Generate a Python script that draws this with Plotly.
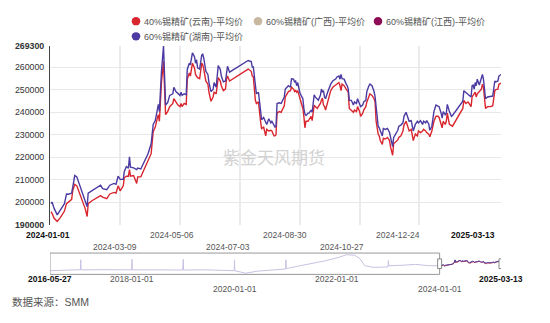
import plotly.graph_objects as go

# ---- data -------------------------------------------------------------
series_names = ["40%锡精矿(云南)-平均价", "60%锡精矿(广西)-平均价",
                "60%锡精矿(江西)-平均价", "60%锡精矿(湖南)-平均价"]
series_colors = ["#d9262e", "#c8b8a0", "#8c0d55", "#4b3aa2"]

dates = [
    "2024-01-02", "2024-01-03", "2024-01-05", "2024-01-08", "2024-01-11", "2024-01-15", "2024-01-17",
    "2024-01-19", "2024-01-22", "2024-01-23", "2024-01-25", "2024-01-27", "2024-01-30", "2024-02-01",
    "2024-02-04", "2024-02-06", "2024-02-07", "2024-02-11", "2024-02-15", "2024-02-19", "2024-02-21",
    "2024-02-25", "2024-02-28", "2024-03-03", "2024-03-05", "2024-03-07", "2024-03-09", "2024-03-12",
    "2024-03-13", "2024-03-15", "2024-03-17", "2024-03-18", "2024-03-19", "2024-03-22", "2024-03-25",
    "2024-03-26", "2024-03-29", "2024-03-31", "2024-04-02", "2024-04-05", "2024-04-08", "2024-04-10",
    "2024-04-12", "2024-04-14", "2024-04-15", "2024-04-16", "2024-04-18", "2024-04-20", "2024-04-22",
    "2024-04-24", "2024-04-26", "2024-04-29", "2024-04-30", "2024-05-02", "2024-05-04", "2024-05-06",
    "2024-05-07", "2024-05-08", "2024-05-10", "2024-05-12", "2024-05-13", "2024-05-15", "2024-05-16",
    "2024-05-18", "2024-05-20", "2024-05-21", "2024-05-22", "2024-05-23", "2024-05-25", "2024-05-27",
    "2024-05-28", "2024-05-29", "2024-05-31", "2024-06-02", "2024-06-03", "2024-06-05", "2024-06-07",
    "2024-06-08", "2024-06-10", "2024-06-11", "2024-06-12", "2024-06-14", "2024-06-15", "2024-06-17",
    "2024-06-19", "2024-06-20", "2024-06-21", "2024-06-23", "2024-07-11", "2024-07-14", "2024-07-15",
    "2024-07-16", "2024-07-18", "2024-07-19", "2024-07-21", "2024-07-23", "2024-07-24", "2024-07-26",
    "2024-07-28", "2024-07-29", "2024-07-31", "2024-08-02", "2024-08-03", "2024-08-05", "2024-08-06",
    "2024-08-07", "2024-08-08", "2024-08-10", "2024-08-12", "2024-08-13", "2024-08-15", "2024-08-16",
    "2024-08-18", "2024-08-19", "2024-08-21", "2024-08-22", "2024-08-24", "2024-08-25", "2024-08-26",
    "2024-08-27", "2024-08-28", "2024-08-30", "2024-09-01", "2024-09-02", "2024-09-03", "2024-09-04",
    "2024-09-05", "2024-09-07", "2024-09-08", "2024-09-10", "2024-09-11", "2024-09-12", "2024-09-13",
    "2024-09-14", "2024-09-16", "2024-09-17", "2024-09-19", "2024-09-20", "2024-09-21", "2024-09-22",
    "2024-09-23", "2024-09-24", "2024-09-26", "2024-09-27", "2024-09-29", "2024-10-01", "2024-10-04",
    "2024-10-05", "2024-10-07", "2024-10-08", "2024-10-09", "2024-10-10", "2024-10-12", "2024-10-14",
    "2024-10-15", "2024-10-16", "2024-10-17", "2024-10-19", "2024-10-21", "2024-10-22", "2024-10-24",
    "2024-10-25", "2024-10-27", "2024-10-28", "2024-10-30", "2024-10-31", "2024-11-02", "2024-11-03",
    "2024-11-05", "2024-11-06", "2024-11-08", "2024-11-10", "2024-11-11", "2024-11-12", "2024-11-14",
    "2024-11-15", "2024-11-16", "2024-11-18", "2024-11-19", "2024-11-21", "2024-11-23", "2024-11-25",
    "2024-11-26", "2024-11-28", "2024-11-29", "2024-12-01", "2024-12-03", "2024-12-04", "2024-12-06",
    "2024-12-08", "2024-12-09", "2024-12-11", "2024-12-13", "2024-12-14", "2024-12-16", "2024-12-17",
    "2024-12-18", "2024-12-20", "2024-12-22", "2024-12-23", "2024-12-25", "2024-12-27", "2024-12-28",
    "2024-12-30", "2024-12-31", "2025-01-02", "2025-01-03", "2025-01-05", "2025-01-07", "2025-01-09",
    "2025-01-11", "2025-01-12", "2025-01-14", "2025-01-15", "2025-01-16", "2025-01-18", "2025-01-19",
    "2025-01-20", "2025-01-22", "2025-01-24", "2025-01-25", "2025-02-04", "2025-02-05", "2025-02-07",
    "2025-02-09", "2025-02-10", "2025-02-12", "2025-02-13", "2025-02-14", "2025-02-15", "2025-02-16",
    "2025-02-17", "2025-02-18", "2025-02-20", "2025-02-22", "2025-02-23", "2025-02-24", "2025-02-26",
    "2025-02-28", "2025-03-03", "2025-03-05", "2025-03-07", "2025-03-08", "2025-03-10", "2025-03-11",
    "2025-03-13",
]

hunan_60 = [
    199300, 200000, 197200, 194300, 196400, 199300, 203600, 203500, 204000, 207200, 211800, 211200,
    207200, 204300, 200300, 197900, 204000, 205300, 206500, 207500, 206000, 205500, 207500, 208300,
    207900, 211500, 210100, 210100, 213600, 215800, 215100, 220100, 215500, 215200, 214400, 215100,
    214700, 216500, 219000, 221500, 225900, 234500, 236200, 240900, 243400, 240200, 258100, 269300,
    243100, 244200, 247400, 248100, 251000, 249100, 248100, 247400, 248800, 247400, 248100, 247700,
    258900, 261700, 261000, 266300, 264600, 261700, 263200, 259600, 259100, 265300, 265700, 263900,
    258100, 256700, 253100, 249100, 250000, 253100, 251000, 256000, 260600, 258900, 256000, 253400,
    253800, 257100, 260300, 257700, 262900, 262400, 260000, 260000, 250200, 248100, 248800, 240200,
    236600, 237600, 235900, 234500, 237000, 235200, 235900, 233700, 233300, 233700, 243800, 244100,
    243800, 244800, 246700, 250200, 251000, 251700, 251000, 254800, 254600, 253400, 253800, 251700,
    253100, 248800, 246700, 245900, 241600, 239100, 238500, 239500, 239500, 240900, 239900, 243800,
    247700, 246700, 245900, 245200, 247400, 250200, 248800, 249500, 246700, 245900, 248800, 250200,
    252400, 253800, 254800, 255600, 256000, 254600, 256700, 254800, 254600, 252400, 251700, 250200,
    245200, 245200, 243100, 244500, 243800, 245900, 243800, 242400, 243100, 244500, 245200, 249100,
    251700, 252400, 251700, 249100, 246700, 241600, 233700, 233000, 231900, 229400, 232700, 232300,
    232700, 230900, 228700, 224700, 228700, 230200, 231900, 233700, 234200, 235200, 238100, 239900,
    237000, 235900, 236200, 232700, 231600, 234500, 235900, 235200, 236200, 234500, 235900, 235200,
    236200, 234700, 231900, 233700, 240200, 243100, 242800, 242400, 239500, 237300, 240200, 238800,
    239500, 243400, 240200, 238100, 238500, 244800, 249500, 248800, 248100, 247400, 246700, 251700,
    252000, 250200, 253100, 251700, 254600, 252000, 256000, 256700, 254600, 245900, 246700, 246900,
    247100, 253800, 253400, 253800, 256000, 256700,
]

yunnan_40 = [
    195700, 195000, 192800, 191400, 193100, 196000, 199300, 200000, 201200, 205000, 207900, 207200,
    203600, 200700, 197200, 193600, 199300, 200700, 201900, 202900, 202200, 201500, 203600, 204300,
    204000, 207200, 205000, 207200, 210800, 211500, 211500, 214400, 211500, 211800, 208300, 211200,
    211200, 213200, 215800, 218000, 221500, 231300, 233300, 237300, 238800, 235900, 253100, 262500,
    238800, 240200, 242400, 243800, 245900, 244500, 243100, 242400, 243800, 242400, 243800, 243400,
    254600, 257400, 256000, 261700, 259600, 256700, 256000, 255300, 254800, 261700, 261000, 259100,
    253800, 252400, 248800, 244800, 246700, 248800, 248100, 251700, 255300, 253800, 251700, 249500,
    250200, 254600, 256000, 253800, 259100, 258100, 256000, 255700, 245200, 243800, 244500, 235900,
    232700, 233300, 229400, 232300, 231600, 231900, 231600, 229400, 229400, 229900, 239500, 240200,
    239900, 240900, 242800, 246700, 248100, 249100, 249500, 251000, 250200, 249100, 249500, 248800,
    249500, 245900, 243100, 241600, 238100, 233000, 235900, 235900, 236600, 238100, 236200, 241600,
    243100, 242400, 241600, 242400, 243800, 245200, 246200, 243100, 242400, 240900, 244500, 245200,
    249500, 251000, 252000, 252400, 253100, 251700, 249500, 252400, 251700, 250200, 249500, 248800,
    241600, 240900, 239900, 240900, 240200, 242400, 240200, 238100, 239500, 240900, 242400, 244500,
    247400, 248100, 247400, 245900, 244500, 235900, 230200, 229400, 227300, 225600, 228400, 228000,
    228700, 227300, 224400, 220800, 225900, 226600, 227600, 228700, 229400, 231600, 234200, 235900,
    232300, 231600, 232300, 229400, 227300, 230200, 229400, 231600, 230900, 231600, 232300, 231600,
    230900, 230200, 229000, 231600, 235900, 238100, 238100, 237600, 233700, 233000, 235900, 234500,
    235900, 239500, 234500, 233700, 233700, 241600, 245200, 243800, 244500, 243800, 242400, 246700,
    247400, 247700, 248800, 246700, 248100, 249100, 250200, 252400, 251000, 241600, 242400, 242400,
    242800, 249500, 250000, 250200, 252400, 252800,
]

# longer history shown in the overview strip under the chart
hist_dates = [
    "2016-05-27", "2016-08-15", "2016-11-15", "2016-12-30", "2017-01-01", "2017-01-03", "2017-06-15",
    "2017-12-29", "2018-01-01", "2018-01-03", "2018-06-15", "2018-12-28", "2019-01-01", "2019-01-03",
    "2019-06-14", "2019-12-30", "2020-01-01", "2020-01-03", "2020-03-20", "2020-06-15", "2020-12-30",
    "2021-01-01", "2021-01-04", "2021-04-15", "2021-07-15", "2021-10-15", "2022-01-14", "2022-03-08",
    "2022-05-06", "2022-06-15", "2022-07-15", "2022-09-15", "2022-12-30", "2023-01-01", "2023-01-04",
    "2023-04-14", "2023-07-14", "2023-10-13", "2023-12-29",
]
hist_vals = [
    140000, 142000, 150000, 152000, 270000, 150000, 152000,
    150000, 275000, 150000, 150000, 148000, 275000, 148000,
    150000, 140000, 270000, 140000, 110000, 135000, 160000,
    270000, 165000, 200000, 230000, 260000, 300000, 330000,
    325000, 280000, 200000, 180000, 185000, 260000, 200000,
    205000, 215000, 200000, 195000,
]

y_ticks = [190000, 200000, 210000, 220000, 230000, 240000, 250000, 260000, 269300]
x_label_dates = ["2024-01-01", "2024-03-09", "2024-05-06", "2024-07-03",
                 "2024-08-30", "2024-10-27", "2024-12-24", "2025-03-13"]
slider_label_dates = ["2016-05-27", "2018-01-01", "2020-01-01",
                      "2022-01-01", "2024-01-01", "2025-03-13"]

# ---- layout helpers (pixel -> paper) -----------------------------------
W, H = 550, 323
def px(x):
    return x / W
def py(y):
    return 1 - y / H

FONT = "Liberation Sans, Arial, Noto Sans CJK SC, sans-serif"
PLOT_L, PLOT_R, PLOT_T, PLOT_B = 50, 501, 42.4, 226.6
SL_T, SL_B = 256, 278

fig = go.Figure()

# main series
fig.add_trace(go.Scatter(x=dates, y=yunnan_40, mode="lines", name=series_names[0],
                         line=dict(color=series_colors[0], width=1.4), showlegend=False))
fig.add_trace(go.Scatter(x=dates, y=hunan_60, mode="lines", name=series_names[3],
                         line=dict(color=series_colors[3], width=1.4), showlegend=False))

# overview strip
fig.add_trace(go.Scatter(x=hist_dates + dates[:1], y=hist_vals + hunan_60[:1], mode="lines",
                         line=dict(color="#c9c0e2", width=1), xaxis="x2", yaxis="y2",
                         showlegend=False, hoverinfo="skip"))
fig.add_trace(go.Scatter(x=dates, y=yunnan_40, mode="lines", line=dict(color="#c8303c", width=1),
                         xaxis="x2", yaxis="y2", showlegend=False, hoverinfo="skip"))
fig.add_trace(go.Scatter(x=dates, y=hunan_60, mode="lines", line=dict(color="#4b3aa2", width=1),
                         xaxis="x2", yaxis="y2", showlegend=False, hoverinfo="skip"))

annotations = []
shapes = []

# x labels of main chart (staggered in two rows)
for i, d in enumerate(x_label_dates):
    first_or_last = i in (0, len(x_label_dates) - 1)
    text = f"<b>{d}</b>" if first_or_last else d
    row_y = 237 if i % 2 == 0 or i == len(x_label_dates) - 1 else 250
    if i == len(x_label_dates) - 1:
        annotations.append(dict(x=d, y=py(row_y), xref="x", yref="paper", text=text, showarrow=False,
                                xanchor="right", yanchor="middle", xshift=-4,
                                font=dict(size=8.5, color="#111", family=FONT)))
    else:
        annotations.append(dict(x=d, y=py(row_y), xref="x", yref="paper", text=text, showarrow=False,
                                xanchor="center", yanchor="middle", xshift=-2 - 3.2 * i,
                                font=dict(size=8.5, color="#111" if first_or_last else "#555",
                                          family=FONT)))

# overview strip labels
for i, d in enumerate(slider_label_dates):
    first_or_last = i in (0, len(slider_label_dates) - 1)
    text = f"<b>{d}</b>" if first_or_last else d
    row_y = 293 if i in (2, 4) else 283
    annotations.append(dict(x=d, y=py(row_y), xref="x2", yref="paper", text=text, showarrow=False,
                            xanchor="center", yanchor="middle",
                            font=dict(size=8.5, color="#111" if first_or_last else "#555",
                                      family=FONT)))

# legend
legend_pos = [(136, 16.7), (258, 16.7), (378, 16.7), (136, 32.3)]
for name, color, (cx, cy) in zip(series_names, series_colors, legend_pos):
    r = 4.3
    shapes.append(dict(type="circle", xref="paper", yref="paper",
                       x0=px(cx - r), x1=px(cx + r), y0=py(cy + r), y1=py(cy - r),
                       fillcolor=color, line=dict(width=0)))
    annotations.append(dict(x=px(cx + 5.5), y=py(cy), xref="paper", yref="paper", text=name,
                            showarrow=False, xanchor="left", yanchor="middle",
                            font=dict(size=9, color="#555", family=FONT)))

# watermark
annotations.append(dict(x=px(273.5), y=py(158), xref="paper", yref="paper", text="紫金天风期货",
                        showarrow=False, font=dict(size=17, color="#d2d2d2", family=FONT)))
# source note
annotations.append(dict(x=px(10), y=py(306.5), xref="paper", yref="paper", text="数据来源：SMM",
                        showarrow=False, xanchor="left", yanchor="middle",
                        font=dict(size=10.5, color="#555", family=FONT)))

# overview frame and handles
shapes.append(dict(type="rect", xref="x2", yref="paper", x0=slider_label_dates[0],
                   x1=slider_label_dates[4], y0=py(SL_B), y1=py(SL_T),
                   line=dict(color="#999", width=1), fillcolor="rgba(0,0,0,0)"))
for d in (slider_label_dates[4], slider_label_dates[5]):
    shapes.append(dict(type="rect", xref="x2", yref="paper", xsizemode="pixel", xanchor=d,
                       x0=-2, x1=2, y0=py(272), y1=py(262),
                       line=dict(color="#888", width=1), fillcolor="#fff"))

fig.update_layout(
    width=W, height=H, autosize=False,
    margin=dict(l=0, r=0, t=0, b=0),
    paper_bgcolor="white", plot_bgcolor="white",
    font=dict(family=FONT),
    xaxis=dict(domain=[px(PLOT_L), px(PLOT_R)], range=["2024-01-01", "2025-03-13"], type="date",
               tickvals=x_label_dates[1:-1], showticklabels=False, ticks="",
               showgrid=True, gridcolor="#ebebeb", gridwidth=1.5, zeroline=False, showline=False),
    yaxis=dict(domain=[py(PLOT_B), py(PLOT_T)], range=[190000, 269300],
               tickvals=y_ticks,
               ticktext=[f"<b>{v}</b>" if v in (y_ticks[0], y_ticks[-1]) else str(v) for v in y_ticks],
               tickfont=dict(size=8.8, color="#333", family=FONT),
               showgrid=True, gridcolor="#e8e8e8", gridwidth=1, zeroline=False,
               showline=True, linecolor="#444", linewidth=1, ticks="", ticklabelstandoff=3),
    xaxis2=dict(domain=[px(PLOT_L), px(PLOT_R)], range=["2016-05-27", "2025-03-13"], type="date",
                showticklabels=False, showgrid=False, zeroline=False, showline=False, ticks="",
                anchor="y2"),
    yaxis2=dict(domain=[py(SL_B), py(SL_T)], range=[96000, 350000], showticklabels=False,
                showgrid=False, zeroline=False, showline=False, ticks="", anchor="x2"),
    annotations=annotations,
    shapes=shapes,
    showlegend=False,
)

fig.write_html("out.html")
